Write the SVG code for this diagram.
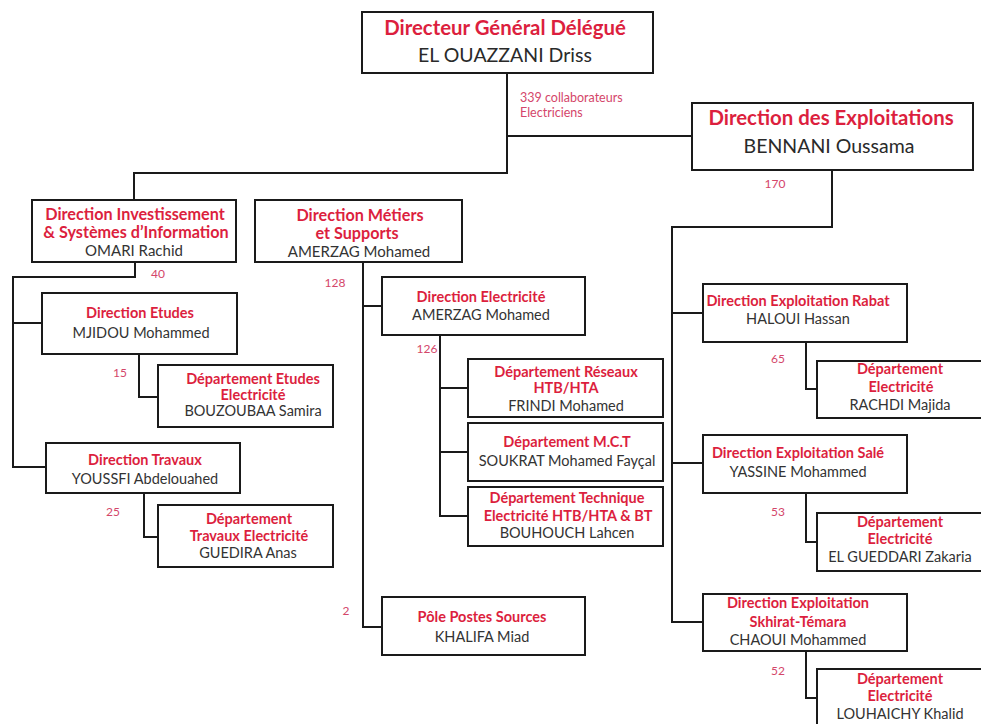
<svg xmlns="http://www.w3.org/2000/svg" width="981" height="724" viewBox="0 0 981 724">
<style>
  .bg { fill: #ffffff; }
  .box { fill: #ffffff; stroke: #1a1a1a; stroke-width: 2; }
  .ln { fill: none; stroke: #1a1a1a; stroke-width: 2; }
  text { font-family: Lato, "Open Sans", "Liberation Sans", sans-serif; text-anchor: middle; }
  .t { fill: #dc1f3e; font-weight: bold; font-size: 14.5px; }
  .n { fill: #333333; font-size: 14.5px; }
  .t2 { fill: #dc1f3e; font-weight: bold; font-size: 16.2px; }
  .n2 { fill: #333333; font-size: 15px; }
  .T { fill: #dc1f3e; font-weight: bold; font-size: 20.4px; }
  .N { fill: #2a2a2a; font-size: 19.5px; }
  .c { fill: #d4466a; font-size: 12px; }
  .cs { fill: #d4466a; font-size: 12.5px; text-anchor: start; }
</style>
<rect class="bg" x="0" y="0" width="981" height="724"/>

<g id="connectors">
  <path class="ln" d="M507,73 V173 H134 V200"/>
  <path class="ln" d="M507,136 H692"/>
  <path class="ln" d="M832,170 V227 H672 V622 H703"/>
  <path class="ln" d="M672,313 H703"/>
  <path class="ln" d="M672,463 H703"/>
  <path class="ln" d="M135,262 V277 H13 V467 H46"/>
  <path class="ln" d="M13,323 H42"/>
  <path class="ln" d="M139,354 V397 H158"/>
  <path class="ln" d="M144,493 V537 H158"/>
  <path class="ln" d="M363,262 V627 H382"/>
  <path class="ln" d="M363,306 H382"/>
  <path class="ln" d="M440,335 V516 H468"/>
  <path class="ln" d="M440,388 H468"/>
  <path class="ln" d="M440,452 H468"/>
  <path class="ln" d="M806,342 V389 H817"/>
  <path class="ln" d="M806,493 V542 H817"/>
  <path class="ln" d="M806,651 V698 H817"/>
</g>

<g id="labels">
  <text class="cs" x="520" y="102">339 collaborateurs</text>
  <text class="cs" x="520" y="117">Electriciens</text>
  <text class="c" x="775" y="188">170</text>
  <text class="c" x="158" y="278">40</text>
  <text class="c" x="335" y="287">128</text>
  <text class="c" x="120" y="377">15</text>
  <text class="c" x="113" y="516">25</text>
  <text class="c" x="427" y="353">126</text>
  <text class="c" x="346" y="615">2</text>
  <text class="c" x="778" y="363">65</text>
  <text class="c" x="778" y="516">53</text>
  <text class="c" x="778" y="675">52</text>
</g>

<g id="dg">
  <rect class="box" x="362" y="12" width="291" height="61"/>
  <text class="T" x="505" y="35">Directeur Général Délégué</text>
  <text class="N" x="505" y="62">EL OUAZZANI Driss</text>
</g>

<g id="dex">
  <rect class="box" x="692" y="103" width="281" height="67"/>
  <text class="T" x="831" y="125">Direction des Exploitations</text>
  <text class="N" x="829" y="153">BENNANI Oussama</text>
</g>

<g id="di">
  <rect class="box" x="32" y="200" width="204" height="62"/>
  <text class="t2" x="135" y="220">Direction Investissement</text>
  <text class="t2" x="136" y="238">&amp; Systèmes d’Information</text>
  <text class="n2" x="134" y="256">OMARI Rachid</text>
</g>

<g id="dms">
  <rect class="box" x="255" y="200" width="207" height="62"/>
  <text class="t2" x="360" y="221">Direction Métiers</text>
  <text class="t2" x="357" y="239">et Supports</text>
  <text class="n2" x="359" y="257">AMERZAG Mohamed</text>
</g>

<g id="detudes">
  <rect class="box" x="42" y="293" width="195" height="61"/>
  <text class="t" x="140" y="318">Direction Etudes</text>
  <text class="n" x="141" y="338">MJIDOU Mohammed</text>
</g>

<g id="dep-etudes">
  <rect class="box" x="158" y="365" width="175" height="62"/>
  <text class="t" x="253" y="384">Département Etudes</text>
  <text class="t" x="253" y="400">Electricité</text>
  <text class="n" x="253" y="416">BOUZOUBAA Samira</text>
</g>

<g id="dtravaux">
  <rect class="box" x="46" y="443" width="194" height="50"/>
  <text class="t" x="145" y="465">Direction Travaux</text>
  <text class="n" x="145" y="484">YOUSSFI Abdelouahed</text>
</g>

<g id="dep-travaux">
  <rect class="box" x="158" y="505" width="175" height="62"/>
  <text class="t" x="249" y="524">Département</text>
  <text class="t" x="249" y="541">Travaux Electricité</text>
  <text class="n" x="248" y="558">GUEDIRA Anas</text>
</g>

<g id="delec">
  <rect class="box" x="382" y="277" width="203" height="58"/>
  <text class="t" x="481" y="302">Direction Electricité</text>
  <text class="n" x="481" y="320">AMERZAG Mohamed</text>
</g>

<g id="dep-reseaux">
  <rect class="box" x="468" y="359" width="195" height="58"/>
  <text class="t" x="566" y="377">Département Réseaux</text>
  <text class="t" x="566" y="393">HTB/HTA</text>
  <text class="n" x="566" y="411">FRINDI Mohamed</text>
</g>

<g id="dep-mct">
  <rect class="box" x="468" y="423" width="195" height="58"/>
  <text class="t" x="567" y="447">Département M.C.T</text>
  <text class="n" x="567" y="466">SOUKRAT Mohamed Fayçal</text>
</g>

<g id="dep-tech">
  <rect class="box" x="468" y="487" width="195" height="59"/>
  <text class="t" x="567" y="503">Département Technique</text>
  <text class="t" x="568" y="521">Electricité HTB/HTA &amp; BT</text>
  <text class="n" x="567" y="538">BOUHOUCH Lahcen</text>
</g>

<g id="pole">
  <rect class="box" x="382" y="597" width="203" height="58"/>
  <text class="t" x="482" y="622">Pôle Postes Sources</text>
  <text class="n" x="482" y="642">KHALIFA Miad</text>
</g>

<g id="rabat">
  <rect class="box" x="703" y="284" width="204" height="58"/>
  <text class="t" x="798" y="306">Direction Exploitation Rabat</text>
  <text class="n" x="798" y="324">HALOUI Hassan</text>
</g>

<g id="dep-rabat">
  <rect class="box" x="817" y="361" width="170" height="57"/>
  <text class="t" x="900" y="374">Département</text>
  <text class="t" x="901" y="392">Electricité</text>
  <text class="n" x="900" y="410">RACHDI Majida</text>
</g>

<g id="sale">
  <rect class="box" x="703" y="435" width="204" height="58"/>
  <text class="t" x="798" y="458">Direction Exploitation Salé</text>
  <text class="n" x="798" y="477">YASSINE Mohammed</text>
</g>

<g id="dep-sale">
  <rect class="box" x="817" y="513" width="170" height="58"/>
  <text class="t" x="900" y="527">Département</text>
  <text class="t" x="900" y="544">Electricité</text>
  <text class="n" x="900" y="562">EL GUEDDARI Zakaria</text>
</g>

<g id="skhirat">
  <rect class="box" x="703" y="594" width="204" height="57"/>
  <text class="t" x="798" y="608">Direction Exploitation</text>
  <text class="t" x="798" y="627">Skhirat-Témara</text>
  <text class="n" x="798" y="645">CHAOUI Mohammed</text>
</g>

<g id="dep-skhirat">
  <rect class="box" x="817" y="669" width="170" height="70"/>
  <text class="t" x="900" y="684">Département</text>
  <text class="t" x="900" y="701">Electricité</text>
  <text class="n" x="900" y="719">LOUHAICHY Khalid</text>
</g>
</svg>
